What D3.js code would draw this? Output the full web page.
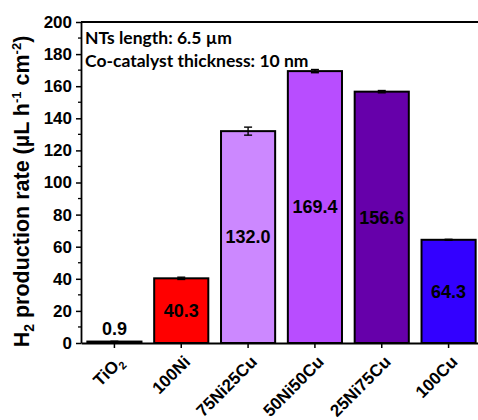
<!DOCTYPE html>
<html><head><meta charset="utf-8">
<script src="https://cdn.jsdelivr.net/npm/d3@7"></script>
<style>body{margin:0;background:#fff}svg{display:block}</style>
</head><body>
<script>
const categories = ["TiO2", "100Ni", "75Ni25Cu", "50Ni50Cu", "25Ni75Cu", "100Cu"];
const values = [0.9, 40.3, 132.0, 169.4, 156.6, 64.3];
const errors = [0.2, 0.7, 2.5, 1.0, 0.7, 0.3];
const colors = ["#ffffff", "#ff0000", "#cc88ff", "#b84dff", "#6600aa", "#3300ff"];
const yTicks = [0, 20, 40, 60, 80, 100, 120, 140, 160, 180, 200];
const notes = ["NTs length: 6.5 µm", "Co-catalyst thickness: 10 nm"];

const W = 478, H = 420;
const svg = d3.select("body").append("svg").attr("width", W).attr("height", H);
const pL = 81, pR = 482, pT = 22, pB = 343;

const x = d3.scaleBand().domain(categories).range([pL, pR]).paddingInner(0.19).paddingOuter(0.095);
const y = d3.scaleLinear().domain([0, 200]).range([pB, pT]);

// bars
svg.selectAll("rect.bar").data(values).enter().append("rect")
  .attr("x", (d, i) => x(categories[i]))
  .attr("y", d => y(d))
  .attr("width", x.bandwidth())
  .attr("height", d => y(0) - y(d))
  .attr("fill", (d, i) => colors[i])
  .attr("stroke", "#000").attr("stroke-width", 2);

// error bars
const eg = svg.append("g").attr("stroke", "#000").attr("stroke-width", 1.4);
values.forEach((v, i) => {
  const cx = x(categories[i]) + x.bandwidth() / 2;
  eg.append("line").attr("x1", cx).attr("x2", cx).attr("y1", y(v + errors[i])).attr("y2", y(v - errors[i]));
  [v + errors[i], v - errors[i]].forEach(e => {
    eg.append("line").attr("x1", cx - 4).attr("x2", cx + 4).attr("y1", y(e)).attr("y2", y(e));
  });
});

// value labels
svg.selectAll("text.val").data(values).enter().append("text")
  .attr("x", (d, i) => x(categories[i]) + x.bandwidth() / 2)
  .attr("y", d => d < 10 ? y(d) - 7 : (y(d) + y(0)) / 2)
  .attr("dy", d => d < 10 ? 0 : "0.35em")
  .attr("text-anchor", "middle")
  .attr("font-family", "Liberation Sans, Arial, sans-serif")
  .attr("font-weight", "bold").attr("font-size", 18)
  .text(d => d.toFixed(1));

// y axis
const yAxis = d3.axisLeft(y).tickValues(yTicks).tickSize(5).tickSizeOuter(0).tickPadding(4);
const gy = svg.append("g").attr("transform", `translate(${pL},0)`).call(yAxis);
gy.select(".domain").attr("stroke-width", 1.8);
gy.selectAll(".tick line").attr("stroke-width", 1.5);
gy.selectAll(".tick text").attr("font-family", "Liberation Sans, Arial, sans-serif")
  .attr("font-weight", "bold").attr("font-size", 17).attr("fill", "#000");
// minor ticks
const minor = d3.range(10, 200, 20);
svg.append("g").selectAll("line").data(minor).enter().append("line")
  .attr("x1", pL - 3).attr("x2", pL).attr("y1", d => y(d)).attr("y2", d => y(d))
  .attr("stroke", "#000").attr("stroke-width", 1.3);

// x axis
const xAxis = d3.axisBottom(x).tickSize(5).tickSizeOuter(0).tickFormat("");
const gx = svg.append("g").attr("transform", `translate(0,${pB})`).call(xAxis);
gx.select(".domain").attr("stroke-width", 1.8);
gx.selectAll(".tick line").attr("stroke-width", 1.5);

// x labels rotated
categories.forEach(c => {
  const cx = x(c) + x.bandwidth() / 2;
  const t = svg.append("text")
    .attr("transform", `translate(${cx + 10},${pB + 20}) rotate(-45)`)
    .attr("text-anchor", "end")
    .attr("font-family", "Liberation Sans, Arial, sans-serif")
    .attr("font-weight", "bold").attr("font-size", 17);
  if (c === "TiO2") {
    t.append("tspan").text("TiO");
    t.append("tspan").attr("font-size", 11).attr("dy", 4).text("2");
  } else t.text(c);
});

// top frame line
svg.append("line").attr("x1", pL).attr("x2", W).attr("y1", pT).attr("y2", pT)
  .attr("stroke", "#000").attr("stroke-width", 1.8);

// y title
const yt = svg.append("text")
  .attr("transform", `translate(29,${(pT + pB) / 2 + 9}) rotate(-90)`)
  .attr("text-anchor", "middle")
  .attr("font-family", "Liberation Sans, Arial, sans-serif")
  .attr("font-weight", "bold").attr("font-size", 21.5);
yt.append("tspan").text("H");
yt.append("tspan").attr("font-size", 14).attr("dy", 5).text("2");
yt.append("tspan").attr("dy", -5).text(" production rate (µL h");
yt.append("tspan").attr("font-size", 13).attr("dy", -8).text("-1");
yt.append("tspan").attr("dy", 8).text(" cm");
yt.append("tspan").attr("font-size", 13).attr("dy", -8).text("-2");
yt.append("tspan").attr("dy", 8).text(")");

// notes
notes.forEach((n, i) => {
  svg.append("text").attr("x", pL + 4).attr("y", 44 + i * 23)
    .attr("font-family", "Lato, 'Open Sans', sans-serif")
    .attr("font-weight", "bold").attr("font-size", 17.5).attr("fill", "#000")
    .text(n);
});
</script>
</body></html>
